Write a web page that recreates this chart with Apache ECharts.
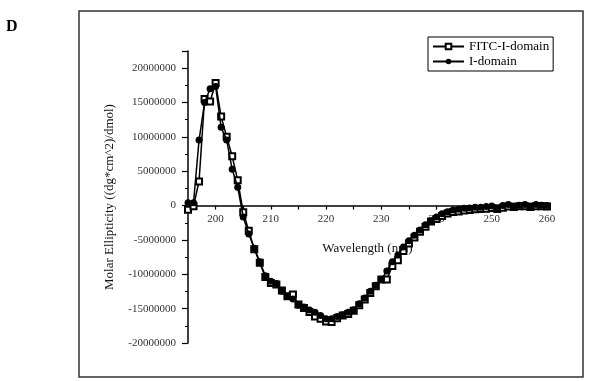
<!DOCTYPE html>
<html>
<head>
<meta charset="utf-8">
<script src="https://cdn.jsdelivr.net/npm/echarts@6/dist/echarts.min.js"></script>
<style>
  html, body { margin: 0; padding: 0; background: #fff; }
  #cd-chart { width: 590px; height: 381px; }
</style>
</head>
<body>
<div id="cd-chart"></div>
<script>
// wavelength 195..260 nm, 1 nm steps
const wavelength = [
  195, 196, 197, 198, 199, 200, 201, 202, 203, 204,
  205, 206, 207, 208, 209, 210, 211, 212, 213, 214,
  215, 216, 217, 218, 219, 220, 221, 222, 223, 224,
  225, 226, 227, 228, 229, 230, 231, 232, 233, 234,
  235, 236, 237, 238, 239, 240, 241, 242, 243, 244,
  245, 246, 247, 248, 249, 250, 251, 252, 253, 254,
  255, 256, 257, 258, 259, 260,
];

// values in millions of dg*cm^2/dmol
const fitcIDomain = [
  -0.6, -0.1, 3.52, 15.5, 15.15, 17.84, 12.95, 10.01, 7.18, 3.67,
  -0.98, -3.67, -6.35, -8.31, -10.41, -11.25, -11.48, -12.36, -13.2, -12.95,
  -14.41, -14.91, -15.5, -16.13, -16.47, -16.86, -16.96, -16.38, -15.98, -15.79,
  -15.29, -14.52, -13.68, -12.71, -11.73, -10.75, -10.75, -8.8, -7.96, -6.6,
  -5.53, -4.65, -3.81, -3.08, -2.3, -1.95, -1.5, -1.15, -0.95, -0.85,
  -0.7, -0.65, -0.55, -0.5, -0.45, -0.35, -0.5, -0.3, -0.15, -0.2,
  -0.1, -0.1, -0.2, -0.1, -0.1, -0.15,
];

const iDomain = [
  0.4, 0.4, 9.53, 15.0, 17.0, 17.35, 11.39, 9.53, 5.28, 2.68,
  -1.66, -4.15, -6.2, -8.17, -10.22, -11.0, -11.33, -12.46, -13.2, -13.59,
  -14.52, -14.77, -15.2, -15.54, -15.98, -16.47, -16.47, -16.13, -15.88, -15.54,
  -15.15, -14.27, -13.44, -12.46, -11.58, -10.75, -9.53, -8.17, -7.18, -6.01,
  -5.13, -4.3, -3.56, -2.79, -2.2, -1.66, -1.2, -0.88, -0.63, -0.54,
  -0.4, -0.34, -0.25, -0.25, -0.15, -0.05, -0.3, 0, 0.15, -0.05,
  0.05, 0.15, -0.05, 0.15, 0.05, 0,
];

const SERIF = '"Liberation Serif", "DejaVu Serif", serif';

const Y_MIN = -20000000;
const Y_MAX = 22500000;
const GRID_TOP = 51;
const GRID_BOTTOM = 38;
const GRID_H = 381 - GRID_TOP - GRID_BOTTOM;
// x axis sits on the zero line; shift it up from the grid bottom
const zeroShift = (GRID_H * (0 - Y_MIN)) / (Y_MAX - Y_MIN);

const toPairs = (vals) => vals.map((v, i) => [wavelength[i], v * 1e6]);

const chart = echarts.init(document.getElementById('cd-chart'));
const option = {
  animation: false,
  backgroundColor: '#fff',
  title: {
    text: 'D',
    left: 6,
    top: 19,
    padding: 0,
    textStyle: { fontFamily: SERIF, fontSize: 16, fontWeight: 'bold', color: '#000' },
  },
  graphic: [
    {
      type: 'rect',
      shape: { x: 79, y: 11, width: 504, height: 366 },
      style: { fill: 'none', stroke: '#333', lineWidth: 1.5 },
      silent: true,
    },
  ],
  legend: {
    orient: 'vertical',
    left: 428,
    top: 37,
    padding: [3, 4, 3, 4],
    borderColor: '#000',
    borderWidth: 1,
    itemWidth: 31,
    itemHeight: 7,
    itemGap: 2,
    textStyle: { fontFamily: SERIF, fontSize: 13, color: '#000' },
    data: ['FITC-I-domain', 'I-domain'],
  },
  grid: {
    left: 188,
    right: 43,
    top: GRID_TOP,
    bottom: GRID_BOTTOM,
    containLabel: false,
    outerBoundsMode: 'none',
  },
  xAxis: {
    type: 'value',
    min: 195,
    max: 260,
    interval: 5,
    offset: -zeroShift,
    name: 'Wavelength (nm)',
    nameLocation: 'middle',
    nameGap: 36,
    nameTextStyle: { fontFamily: SERIF, fontSize: 13, color: '#111' },
    axisLine: { onZero: false, lineStyle: { color: '#000', width: 1.5 } },
    axisTick: { inside: false, length: 4, lineStyle: { color: '#000', width: 1.2 } },
    axisLabel: {
      margin: 8,
      fontFamily: SERIF,
      fontSize: 11,
      color: '#333',
      formatter: (v) => (v % 10 === 0 ? String(v) : ''),
    },
    splitLine: { show: false },
  },
  yAxis: {
    type: 'value',
    min: Y_MIN,
    max: Y_MAX,
    interval: 5000000,
    name: 'Molar Ellipticity ((dg*cm^2)/dmol)',
    nameLocation: 'middle',
    nameGap: 72,
    nameTextStyle: { fontFamily: SERIF, fontSize: 13, color: '#111' },
    axisLine: { show: true, onZero: false, lineStyle: { color: '#000', width: 1.5 } },
    axisTick: { show: true, inside: false, length: 6, lineStyle: { color: '#000', width: 1.2 } },
    minorTick: { show: true, splitNumber: 2, length: 3, lineStyle: { color: '#000', width: 1 } },
    axisLabel: {
      margin: 12,
      fontFamily: SERIF,
      fontSize: 11,
      color: '#333',
      formatter: (v) => (v % 5000000 === 0 ? String(v) : ''),
    },
    splitLine: { show: false },
  },
  series: [
    {
      name: 'FITC-I-domain',
      type: 'line',
      data: toPairs(fitcIDomain),
      symbol: 'emptyRect',
      symbolSize: 6,
      itemStyle: { color: '#000', borderColor: '#000', borderWidth: 1 },
      lineStyle: { color: '#000', width: 1.5 },
      z: 2,
    },
    {
      name: 'I-domain',
      type: 'line',
      data: toPairs(iDomain),
      symbol: 'circle',
      symbolSize: 7,
      itemStyle: { color: '#000' },
      lineStyle: { color: '#000', width: 1.5 },
      z: 3,
    },
  ],
};

chart.setOption(option);
</script>
</body>
</html>
